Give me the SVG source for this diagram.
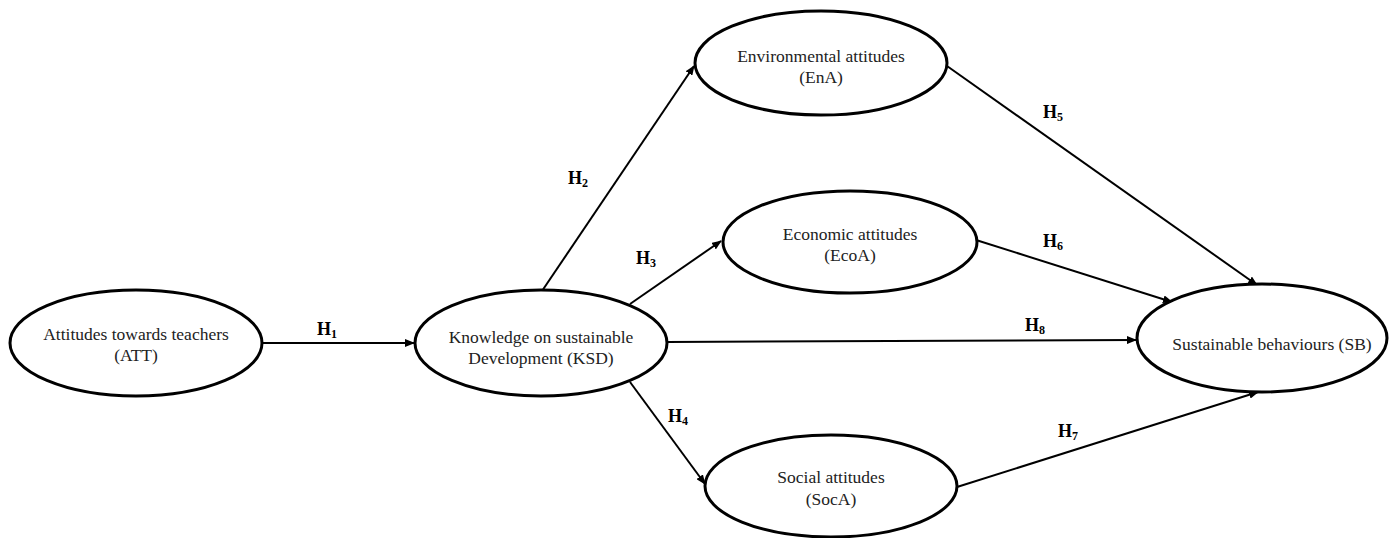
<svg xmlns="http://www.w3.org/2000/svg" width="1394" height="538" viewBox="0 0 1394 538">
<style>
.node ellipse{fill:#fff;stroke:#000;stroke-width:3}
.node text{font-family:"Liberation Serif","Times New Roman",serif;font-size:17.5px;fill:#222;text-anchor:middle}
.conn line{stroke:#000;stroke-width:2;marker-end:url(#ah)}
.lbl{font-family:"Liberation Serif","Times New Roman",serif;font-size:18px;font-weight:bold;fill:#000}
.lbl tspan.s{font-size:12px}
</style>
<defs>
<marker id="ah" markerWidth="10" markerHeight="8" refX="9" refY="4" orient="auto" markerUnits="userSpaceOnUse">
<path d="M0,0 L10,4 L0,8 Z" fill="#000"/>
</marker>
</defs>
<rect width="1394" height="538" fill="#fff"/>
<g id="connectors" class="conn">
<line x1="262" y1="343" x2="414" y2="343"/>
<line x1="542" y1="291" x2="694" y2="66"/>
<line x1="630" y1="304" x2="721" y2="241"/>
<line x1="667" y1="342" x2="1136" y2="340"/>
<line x1="630" y1="382" x2="705" y2="484"/>
<line x1="947" y1="66" x2="1257" y2="285"/>
<line x1="976" y1="240" x2="1172" y2="302"/>
<line x1="957" y1="487" x2="1258" y2="392"/>
</g>
<g id="labels">
<text class="lbl" x="317" y="335">H<tspan class="s" dy="3">1</tspan></text>
<text class="lbl" x="568" y="184">H<tspan class="s" dy="3">2</tspan></text>
<text class="lbl" x="636" y="264">H<tspan class="s" dy="3">3</tspan></text>
<text class="lbl" x="668" y="422">H<tspan class="s" dy="3">4</tspan></text>
<text class="lbl" x="1043" y="118">H<tspan class="s" dy="3">5</tspan></text>
<text class="lbl" x="1043" y="247">H<tspan class="s" dy="3">6</tspan></text>
<text class="lbl" x="1058" y="437">H<tspan class="s" dy="3">7</tspan></text>
<text class="lbl" x="1025" y="331">H<tspan class="s" dy="3">8</tspan></text>
</g>
<g id="ATT" class="node">
<ellipse cx="136" cy="343" rx="126" ry="53"/>
<text x="136" y="340">Attitudes towards teachers</text>
<text x="136" y="361">(ATT)</text>
</g>
<g id="KSD" class="node">
<ellipse cx="541" cy="343" rx="126" ry="53"/>
<text x="541" y="343">Knowledge on sustainable</text>
<text x="541" y="364">Development (KSD)</text>
</g>
<g id="EnA" class="node">
<ellipse cx="821" cy="63" rx="126" ry="52"/>
<text x="821" y="62">Environmental attitudes</text>
<text x="821" y="83">(EnA)</text>
</g>
<g id="EcoA" class="node">
<ellipse cx="850" cy="242" rx="127" ry="51"/>
<text x="850" y="240">Economic attitudes</text>
<text x="850" y="261">(EcoA)</text>
</g>
<g id="SocA" class="node">
<ellipse cx="831" cy="486" rx="126" ry="51"/>
<text x="831" y="483">Social attitudes</text>
<text x="831" y="505">(SocA)</text>
</g>
<g id="SB" class="node">
<ellipse cx="1262" cy="338" rx="125" ry="54"/>
<text x="1272" y="350">Sustainable behaviours (SB)</text>
</g>
</svg>
